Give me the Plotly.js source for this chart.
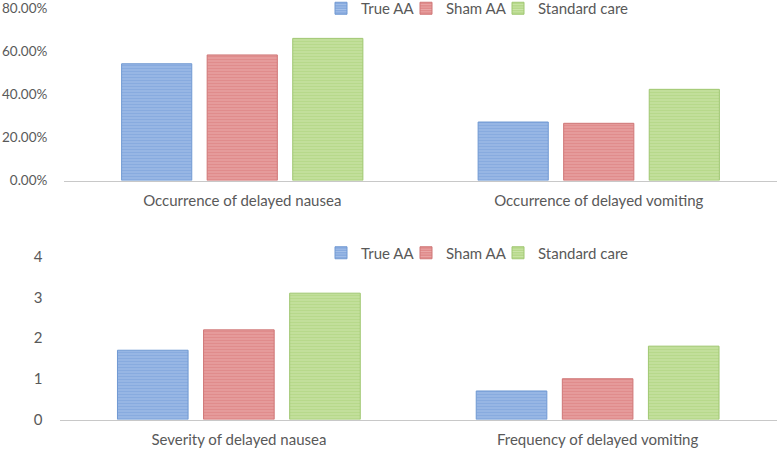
<!DOCTYPE html>
<html>
<head>
<meta charset="utf-8">
<script src="https://cdn.plot.ly/plotly-3.0.1.min.js"></script>
<style>html,body{margin:0;padding:0;background:#fff;}#chart{width:777px;height:449px;}</style>
</head>
<body>
<div id="chart"></div>
<script>
// Data
const groups = ["True AA", "Sham AA", "Standard care"];
const topCategories = ["Occurrence of delayed nausea", "Occurrence of delayed vomiting"];
const topTrueAA = [0.543, 0.272];
const topShamAA = [0.584, 0.266];
const topStandard = [0.661, 0.424];
const bottomCategories = ["Severity of delayed nausea", "Frequency of delayed vomiting"];
const bottomTrueAA = [1.7, 0.7];
const bottomShamAA = [2.2, 1.0];
const bottomStandard = [3.1, 1.8];

const fills = ["#88abdf", "#e08c8c", "#b7d98b"];
const stripes = ["#a6c1e9", "#eaa9a9", "#cce5aa"];
const borders = ["#7099d2", "#cf7676", "#a0c772"];

const topVals = [topTrueAA, topShamAA, topStandard];
const bottomVals = [bottomTrueAA, bottomShamAA, bottomStandard];

function barTrace(i, xs, ys, xa, ya, leg) {
  return {
    type: "bar", name: groups[i], x: xs, y: ys, xaxis: xa, yaxis: ya,
    legend: leg, hoverinfo: "skip",
    marker: {
      color: fills[i],
      line: {color: borders[i], width: 1},
      pattern: {shape: "-", fgcolor: stripes[i], bgcolor: fills[i], size: 3, solidity: 0.35}
    }
  };
}

const topLegends = ["legend", "legend2", "legend3"];
const bottomLegends = ["legend4", "legend5", "legend6"];
const traces = [];
for (let i = 0; i < 3; i++) traces.push(barTrace(i, topCategories, topVals[i], "x", "y", topLegends[i]));
for (let i = 0; i < 3; i++) traces.push(barTrace(i, bottomCategories, bottomVals[i], "x2", "y2", bottomLegends[i]));

const txt = {family: "Lato, 'Open Sans', sans-serif", size: 15, color: "#595959"};
const legendBase = {orientation: "h", xanchor: "left", yanchor: "middle", font: txt,
  bgcolor: "rgba(0,0,0,0)", itemwidth: 30, tracegroupgap: 0, borderwidth: 0};
const legendX = [321, 406, 498];

const axCommon = {showgrid: false, zeroline: false, automargin: false, fixedrange: true,
  ticks: "outside", tickcolor: "rgba(0,0,0,0)", tickfont: txt};

const layout = {
  width: 777, height: 449,
  margin: {l: 0, r: 0, t: 0, b: 0, autoexpand: false},
  paper_bgcolor: "#fff", plot_bgcolor: "#fff",
  barmode: "group", bargap: 0.28, bargroupgap: 0.18,
  font: txt,
  showlegend: true,
  xaxis: Object.assign({}, axCommon, {domain: [64/777, 1], anchor: "y", showline: true, linecolor: "#c8c8c8", linewidth: 1.5, ticklen: 6}),
  yaxis: Object.assign({}, axCommon, {domain: [1 - 180.5/449, 1 - 8.5/449], anchor: "x", range: [0, 0.8], dtick: 0.2, tick0: 0,
    tickformat: ".2%", showline: false, ticklen: 13, tickfont: Object.assign({}, txt, {size: 13.5})}),
  xaxis2: Object.assign({}, axCommon, {domain: [59.5/777, 1], anchor: "y2", showline: true, linecolor: "#c8c8c8", linewidth: 1.5, ticklen: 6}),
  yaxis2: Object.assign({}, axCommon, {domain: [1 - 419.5/449, 1 - 256.5/449], anchor: "x2", range: [0, 4], dtick: 1, tick0: 0,
    showline: false, ticklen: 13})
};
for (let i = 0; i < 3; i++) {
  layout[topLegends[i]] = Object.assign({}, legendBase, {x: legendX[i]/777, y: 1 - 8.5/449});
  layout[bottomLegends[i]] = Object.assign({}, legendBase, {x: legendX[i]/777, y: 1 - 253/449});
}

Plotly.newPlot("chart", traces, layout, {displayModeBar: false, staticPlot: true});
</script>
</body>
</html>
